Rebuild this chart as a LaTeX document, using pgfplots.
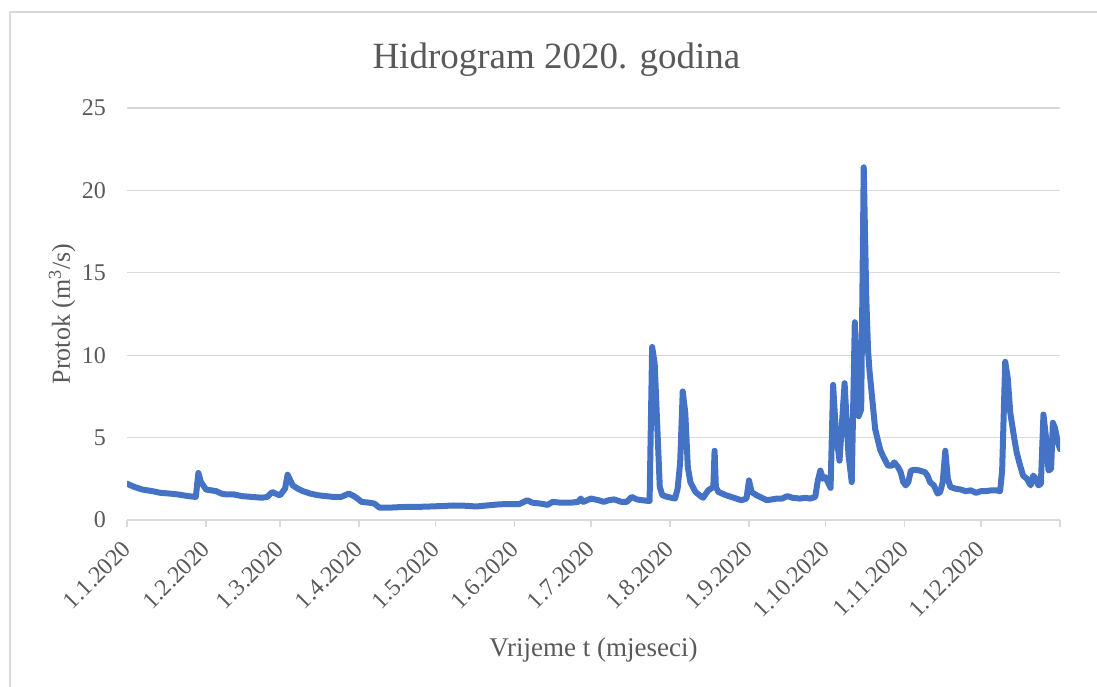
\documentclass[border=0pt]{standalone}
\usepackage{pgfplots}
\pgfplotsset{compat=1.18}
\usepackage{fontspec}
\setmainfont{Liberation Serif}
\definecolor{txtgray}{HTML}{595959}
\definecolor{gridgray}{HTML}{D9D9D9}
\definecolor{lineblue}{HTML}{4472C4}
\begin{document}
\begin{tikzpicture}
\useasboundingbox (0pt,0pt) rectangle (1097pt,687pt);
\draw[gridgray, line width=1.5pt] (10pt,-5pt) -- (10pt,675pt) -- (1102pt,675pt);
\begin{axis}[
  at={(127pt,167pt)}, anchor=south west,
  scale only axis, width=933pt, height=412pt,
  xmin=0, xmax=366, ymin=0, ymax=25,
  axis x line*=bottom, axis y line*=left,
  y axis line style={draw=none},
  x axis line style={gridgray, line width=1.5pt},
  xtick={0,31,60,91,121,152,182,213,244,274,305,335,366},
  xticklabels={1.1.2020,1.2.2020,1.3.2020,1.4.2020,1.5.2020,1.6.2020,1.7.2020,1.8.2020,1.9.2020,1.10.2020,1.11.2020,1.12.2020,{}},
  ytick={0,5,10,15,20,25},
  tick align=outside, major tick length=7pt,
  xtick style={gridgray, line width=1.5pt},
  ytick style={draw=none},
  ymajorgrids, grid style={gridgray, line width=1.3pt},
  /pgf/number format/assume math mode=true,
  tick label style={font=\fontsize{24}{28}\selectfont, text=txtgray},
  xticklabel style={rotate=45, anchor=east, inner sep=0pt},
  xticklabel shift=18pt,
  yticklabel style={anchor=east, inner sep=0pt, xshift=-14pt},
  title={Hidrogram 2020. godina},
  title style={at={(axis description cs:0.4603,1.0825)}, anchor=base, font=\fontsize{37}{42}\selectfont, text=txtgray},
  xlabel={Vrijeme t (mjeseci)},
  xlabel style={at={(axis description cs:0.5,-0.3325)}, anchor=base, font=\fontsize{27}{31}\selectfont, text=txtgray},
  ylabel={Protok (m\textsuperscript{3}/s)},
  ylabel style={at={(axis description cs:-0.0611,0.5)}, anchor=base, rotate=0, font=\fontsize{26}{30}\selectfont, text=txtgray},
]
\addplot[lineblue, line width=6pt, line join=round, line cap=round] coordinates {
(0,2.2) (3,2.0) (6,1.85) (10,1.75) (13,1.65) (17,1.6) (20,1.55) (24,1.45) (27,1.4)
(28,2.85) (29,2.3) (31,1.85) (33,1.8) (35,1.75) (37,1.6) (39,1.55) (42,1.55) (45,1.45)
(49,1.4) (53,1.35) (55,1.4) (57,1.7) (59,1.55) (60,1.5) (62,1.9) (63,2.75) (65,2.1)
(67,1.9) (69,1.75) (72,1.6) (75,1.5) (78,1.45) (81,1.4) (84,1.4) (87,1.6) (89,1.45)
(90,1.35) (92,1.1) (95,1.05) (97,1.0) (99,0.75) (103,0.75) (107,0.78) (111,0.8)
(115,0.8) (119,0.82) (124,0.85) (128,0.88) (132,0.87) (137,0.82) (141,0.88) (146,0.95)
(150,0.97) (154,0.97) (157,1.2) (159,1.05) (162,1.0) (165,0.92) (167,1.1) (170,1.05)
(174,1.05) (177,1.1) (178,1.3) (179,1.1) (182,1.3) (185,1.2) (187,1.1) (189,1.2)
(191,1.25) (194,1.1) (196,1.1) (198,1.4) (200,1.25) (202,1.2) (205,1.15)
(206,10.5) (207,9.5) (209,2.0) (210,1.5) (212,1.4) (215,1.3) (216,1.9) (217,3.5)
(218,7.8) (219,6.5) (220,3.2) (221,2.3) (223,1.7) (225,1.45) (226,1.35) (228,1.8)
(230,2.0) (230.5,4.2) (231,2.0) (232,1.7) (235,1.5) (238,1.35) (241,1.2) (243,1.3)
(244,2.4) (245,1.7) (247,1.5) (249,1.35) (251,1.2) (253,1.25) (255,1.3) (257,1.3)
(259,1.45) (261,1.35) (264,1.3) (266,1.35) (268,1.3) (270,1.4) (271,2.4) (272,3.0)
(273,2.5) (274,2.6) (276,1.95) (277,8.2) (278,5.5) (279.5,3.6) (281.5,8.3) (283,4.0)
(284.3,2.3) (285.5,12.0) (286.5,8.0) (287,6.3) (288,6.7) (289,21.4) (290,13.5)
(290.7,10.3) (291.3,9.0) (292,7.9) (293.5,5.5) (295.5,4.25) (296.5,3.9) (298.5,3.3)
(300,3.3) (301,3.5) (302.5,3.2) (303.5,2.9) (304.5,2.3) (305.5,2.1) (306.5,2.3)
(307.5,3.0) (309,3.05) (311,3.0) (313,2.9) (314,2.7) (315,2.3) (316.5,2.1) (318,1.6)
(319,1.7) (320,2.3) (321,4.2) (322,2.5) (323,2.0) (325,1.9) (327,1.85) (329,1.75)
(331,1.8) (333,1.65) (335,1.75) (337,1.75) (339,1.8) (341,1.8) (342.5,1.75)
(343.3,3.0) (344.5,9.6) (345.5,8.6) (346.5,6.5) (348,5.0) (349,4.1) (350,3.5)
(351.5,2.7) (353,2.5) (354.5,2.1) (355.5,2.7) (356.5,2.5) (357.5,2.1) (358.5,2.2)
(359.5,6.4) (360.5,5.0) (361.5,3.0) (362.5,3.1) (363.2,5.9) (364,5.6) (365,4.8) (366,4.3)
};
\end{axis}
\end{tikzpicture}
\end{document}
